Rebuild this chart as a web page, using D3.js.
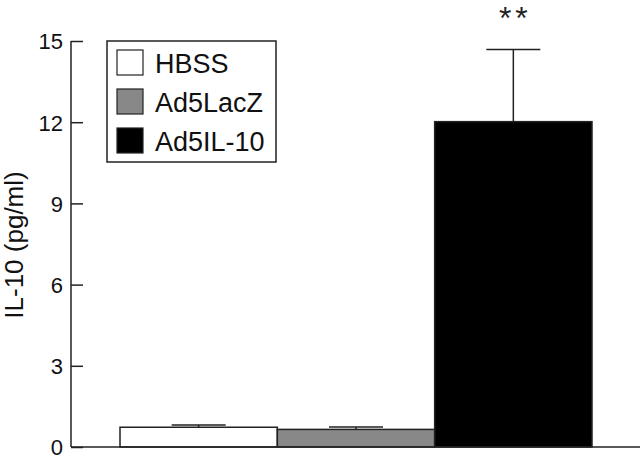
<!DOCTYPE html>
<html>
<head>
<meta charset="utf-8">
<script src="https://cdn.jsdelivr.net/npm/d3@7"></script>
<style>
body { margin: 0; background: #fff; }
svg { display: block; font-family: Arial, "Liberation Sans", Helvetica, sans-serif; }
</style>
</head>
<body>
<div id="chart"></div>
<script>
var groups = ["HBSS", "Ad5LacZ", "Ad5IL-10"];
var means = [0.73, 0.65, 12.02];
var errors = [0.08, 0.09, 2.67];
var fills = ["#ffffff", "#888888", "#000000"];
var yTicks = [0, 3, 6, 9, 12, 15];
var signif = ["", "", "**"];

var W = 640, H = 456;
var axisX = 71, baseY = 447, topY = 41;

var svg = d3.select("#chart")
  .append("svg")
  .attr("width", W)
  .attr("height", H);

var x = d3.scaleBand()
  .domain(groups)
  .range([120, 592])
  .padding(0);

var y = d3.scaleLinear()
  .domain([0, 15])
  .range([baseY, topY]);

// y axis, ticks pointing inward
var yAxis = svg.append("g")
  .attr("transform", "translate(" + axisX + ",0)")
  .call(d3.axisRight(y).tickValues(yTicks).tickSize(12).tickFormat(d3.format("d")));
yAxis.select(".domain").attr("d", "M0," + topY + "V" + baseY).attr("stroke", "#222").attr("stroke-width", 1.5);
yAxis.selectAll(".tick line").attr("stroke", "#222").attr("stroke-width", 1.5);
yAxis.selectAll(".tick text")
  .attr("x", -8)
  .attr("text-anchor", "end")
  .attr("dy", "0.36em")
  .style("font-size", "22px")
  .attr("fill", "#111");

// bars
svg.selectAll(".bar")
  .data(groups)
  .enter()
  .append("rect")
  .attr("class", "bar")
  .attr("x", function(d) { return x(d); })
  .attr("width", x.bandwidth())
  .attr("y", function(d, i) { return y(means[i]); })
  .attr("height", function(d, i) { return baseY - y(means[i]); })
  .attr("fill", function(d, i) { return fills[i]; })
  .attr("stroke", "#222")
  .attr("stroke-width", 1.5);

// error bars (upper only)
var capW = 54;
groups.forEach(function(g, i) {
  var cx = x(g) + x.bandwidth() / 2;
  svg.append("line")
    .attr("x1", cx).attr("x2", cx)
    .attr("y1", y(means[i])).attr("y2", y(means[i] + errors[i]))
    .attr("stroke", "#222").attr("stroke-width", 1.5);
  svg.append("line")
    .attr("x1", cx - capW / 2).attr("x2", cx + capW / 2)
    .attr("y1", y(means[i] + errors[i])).attr("y2", y(means[i] + errors[i]))
    .attr("stroke", "#222").attr("stroke-width", 1.5);
  if (signif[i]) {
    svg.append("text")
      .attr("x", cx + 2)
      .attr("y", 29)
      .attr("text-anchor", "middle")
      .style("font-size", "32px")
      .style("letter-spacing", "4px")
      .attr("fill", "#222")
      .text(signif[i]);
  }
});

// x baseline
svg.append("line")
  .attr("x1", axisX).attr("x2", W)
  .attr("y1", baseY).attr("y2", baseY)
  .attr("stroke", "#222").attr("stroke-width", 1.5);

// y label
svg.append("text")
  .attr("transform", "translate(23,245) rotate(-90)")
  .attr("text-anchor", "middle")
  .style("font-size", "26px")
  .attr("fill", "#111")
  .text("IL-10 (pg/ml)");

// legend
var legend = svg.append("g");
legend.append("rect")
  .attr("x", 107).attr("y", 41)
  .attr("width", 169).attr("height", 121)
  .attr("fill", "#fff").attr("stroke", "#222").attr("stroke-width", 1.5);
groups.forEach(function(g, i) {
  legend.append("rect")
    .attr("x", 117).attr("y", 50 + i * 39)
    .attr("width", 26).attr("height", 25)
    .attr("fill", fills[i]).attr("stroke", "#222").attr("stroke-width", 1.2);
  legend.append("text")
    .attr("x", 155).attr("y", 73 + i * 39)
    .style("font-size", "27px")
    .attr("fill", "#111")
    .text(g);
});
</script>
</body>
</html>
